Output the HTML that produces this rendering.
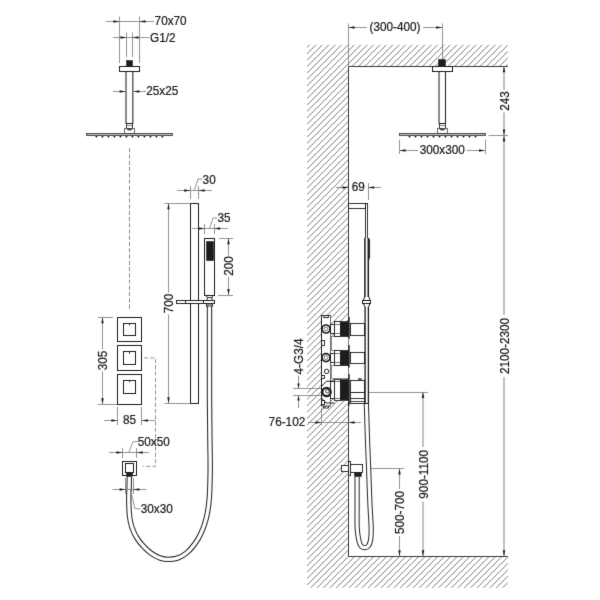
<!DOCTYPE html>
<html><head><meta charset="utf-8"><title>Shower set dimensions</title>
<style>
html,body{margin:0;padding:0;background:#fff;}
body{width:600px;height:600px;overflow:hidden;}
svg{display:block;font-family:"Liberation Sans",sans-serif;will-change:transform;transform:translateZ(0);}
</style></head><body>
<svg width="600" height="600" viewBox="0 0 600 600">
<defs><filter id="bl" x="0" y="0" width="600" height="600" filterUnits="userSpaceOnUse" color-interpolation-filters="sRGB"><feConvolveMatrix order="3" kernelMatrix="0.015 0.06 0.015 0.06 0.7 0.06 0.015 0.06 0.015" divisor="1" edgeMode="duplicate" preserveAlpha="false"/></filter></defs>
<g filter="url(#bl)">
<rect width="600" height="600" fill="#fff"/>
<defs><clipPath id="hc"><path d="M307.1,44.7 H507.8 V66.3 H348.5 V556.3 H507.8 V587.8 H307.1 Z"/></clipPath></defs>
<path d="M305.10,42.95 L509.80,-161.75 M305.10,49.35 L509.80,-155.35 M305.10,55.75 L509.80,-148.95 M305.10,62.15 L509.80,-142.55 M305.10,68.55 L509.80,-136.15 M305.10,74.95 L509.80,-129.75 M305.10,81.35 L509.80,-123.35 M305.10,87.75 L509.80,-116.95 M305.10,94.15 L509.80,-110.55 M305.10,100.55 L509.80,-104.15 M305.10,106.95 L509.80,-97.75 M305.10,113.35 L509.80,-91.35 M305.10,119.75 L509.80,-84.95 M305.10,126.15 L509.80,-78.55 M305.10,132.55 L509.80,-72.15 M305.10,138.95 L509.80,-65.75 M305.10,145.35 L509.80,-59.35 M305.10,151.75 L509.80,-52.95 M305.10,158.15 L509.80,-46.55 M305.10,164.55 L509.80,-40.15 M305.10,170.95 L509.80,-33.75 M305.10,177.35 L509.80,-27.35 M305.10,183.75 L509.80,-20.95 M305.10,190.15 L509.80,-14.55 M305.10,196.55 L509.80,-8.15 M305.10,202.95 L509.80,-1.75 M305.10,209.35 L509.80,4.65 M305.10,215.75 L509.80,11.05 M305.10,222.15 L509.80,17.45 M305.10,228.55 L509.80,23.85 M305.10,234.95 L509.80,30.25 M305.10,241.35 L509.80,36.65 M305.10,247.75 L509.80,43.05 M305.10,254.15 L509.80,49.45 M305.10,260.55 L509.80,55.85 M305.10,266.95 L509.80,62.25 M305.10,273.35 L509.80,68.65 M305.10,279.75 L509.80,75.05 M305.10,286.15 L509.80,81.45 M305.10,292.55 L509.80,87.85 M305.10,298.95 L509.80,94.25 M305.10,305.35 L509.80,100.65 M305.10,311.75 L509.80,107.05 M305.10,318.15 L509.80,113.45 M305.10,324.55 L509.80,119.85 M305.10,330.95 L509.80,126.25 M305.10,337.35 L509.80,132.65 M305.10,343.75 L509.80,139.05 M305.10,350.15 L509.80,145.45 M305.10,356.55 L509.80,151.85 M305.10,362.95 L509.80,158.25 M305.10,369.35 L509.80,164.65 M305.10,375.75 L509.80,171.05 M305.10,382.15 L509.80,177.45 M305.10,388.55 L509.80,183.85 M305.10,394.95 L509.80,190.25 M305.10,401.35 L509.80,196.65 M305.10,407.75 L509.80,203.05 M305.10,414.15 L509.80,209.45 M305.10,420.55 L509.80,215.85 M305.10,426.95 L509.80,222.25 M305.10,433.35 L509.80,228.65 M305.10,439.75 L509.80,235.05 M305.10,446.15 L509.80,241.45 M305.10,452.55 L509.80,247.85 M305.10,458.95 L509.80,254.25 M305.10,465.35 L509.80,260.65 M305.10,471.75 L509.80,267.05 M305.10,478.15 L509.80,273.45 M305.10,484.55 L509.80,279.85 M305.10,490.95 L509.80,286.25 M305.10,497.35 L509.80,292.65 M305.10,503.75 L509.80,299.05 M305.10,510.15 L509.80,305.45 M305.10,516.55 L509.80,311.85 M305.10,522.95 L509.80,318.25 M305.10,529.35 L509.80,324.65 M305.10,535.75 L509.80,331.05 M305.10,542.15 L509.80,337.45 M305.10,548.55 L509.80,343.85 M305.10,554.95 L509.80,350.25 M305.10,561.35 L509.80,356.65 M305.10,567.75 L509.80,363.05 M305.10,574.15 L509.80,369.45 M305.10,580.55 L509.80,375.85 M305.10,586.95 L509.80,382.25 M305.10,593.35 L509.80,388.65 M305.10,599.75 L509.80,395.05 M305.10,606.15 L509.80,401.45 M305.10,612.55 L509.80,407.85 M305.10,618.95 L509.80,414.25 M305.10,625.35 L509.80,420.65 M305.10,631.75 L509.80,427.05 M305.10,638.15 L509.80,433.45 M305.10,644.55 L509.80,439.85 M305.10,650.95 L509.80,446.25 M305.10,657.35 L509.80,452.65 M305.10,663.75 L509.80,459.05 M305.10,670.15 L509.80,465.45 M305.10,676.55 L509.80,471.85 M305.10,682.95 L509.80,478.25 M305.10,689.35 L509.80,484.65 M305.10,695.75 L509.80,491.05 M305.10,702.15 L509.80,497.45 M305.10,708.55 L509.80,503.85 M305.10,714.95 L509.80,510.25 M305.10,721.35 L509.80,516.65 M305.10,727.75 L509.80,523.05 M305.10,734.15 L509.80,529.45 M305.10,740.55 L509.80,535.85 M305.10,746.95 L509.80,542.25 M305.10,753.35 L509.80,548.65 M305.10,759.75 L509.80,555.05 M305.10,766.15 L509.80,561.45 M305.10,772.55 L509.80,567.85 M305.10,778.95 L509.80,574.25 M305.10,785.35 L509.80,580.65 M305.10,791.75 L509.80,587.05 M305.10,798.15 L509.80,593.45" stroke="#7c7c7c" stroke-width="1.0" fill="none" clip-path="url(#hc)"/>
<path d="M507.8,66.5 H348.5 V556.5 H507.8" fill="none" stroke="#3a3a3a" stroke-width="1.0" />
<line x1="119.5" y1="16.5" x2="119.5" y2="63" stroke="#7a7a7a" stroke-width="0.8" />
<line x1="139.5" y1="16.5" x2="139.5" y2="63" stroke="#7a7a7a" stroke-width="0.8" />
<line x1="106" y1="21.5" x2="154" y2="21.5" stroke="#7a7a7a" stroke-width="0.8" />
<polygon points="119.4,21.5 113.4,20.25 113.4,22.75" fill="#1c1c1c"/>
<polygon points="139.5,21.5 145.5,20.25 145.5,22.75" fill="#1c1c1c"/>
<text transform="translate(154.6,25.3) scale(0.94,1)" font-size="12.5" text-anchor="start" fill="#1c1c1c" stroke="#1c1c1c" stroke-width="0.25">70x70</text>
<line x1="126.5" y1="32.5" x2="126.5" y2="57" stroke="#7a7a7a" stroke-width="0.8" />
<line x1="132.5" y1="32.5" x2="132.5" y2="57" stroke="#7a7a7a" stroke-width="0.8" />
<line x1="113" y1="37.5" x2="149" y2="37.5" stroke="#7a7a7a" stroke-width="0.8" />
<polygon points="126.5,37.5 120.5,36.25 120.5,38.75" fill="#1c1c1c"/>
<polygon points="132.5,37.5 138.5,36.25 138.5,38.75" fill="#1c1c1c"/>
<text transform="translate(150,41.6) scale(0.94,1)" font-size="12.5" text-anchor="start" fill="#1c1c1c" stroke="#1c1c1c" stroke-width="0.25">G1/2</text>
<rect x="126.5" y="60.5" width="6.0" height="6.0" fill="#1c1c1c" stroke="#1c1c1c" stroke-width="0.5" />
<rect x="119.5" y="66.5" width="20.0" height="5.0" fill="none" stroke="#1c1c1c" stroke-width="1.0" />
<path d="M126,71.5 V123 M132.85,71.5 V123" fill="none" stroke="#2a2a2a" stroke-width="1.1" />
<line x1="125.6" y1="123.5" x2="133.3" y2="123.5" stroke="#1c1c1c" stroke-width="1.0" />
<line x1="113" y1="91.5" x2="125.6" y2="91.5" stroke="#7a7a7a" stroke-width="0.8" />
<polygon points="125.6,91.5 119.6,90.25 119.6,92.75" fill="#1c1c1c"/>
<line x1="133.3" y1="91.5" x2="146" y2="91.5" stroke="#7a7a7a" stroke-width="0.8" />
<polygon points="133.3,91.5 139.3,90.25 139.3,92.75" fill="#1c1c1c"/>
<text transform="translate(146.3,95) scale(0.94,1)" font-size="12.5" text-anchor="start" fill="#1c1c1c" stroke="#1c1c1c" stroke-width="0.25">25x25</text>
<rect x="126.5" y="123.5" width="6.0" height="5.0" fill="none" stroke="#1c1c1c" stroke-width="0.9" />
<line x1="126.3" y1="125.5" x2="132.8" y2="125.5" stroke="#666" stroke-width="0.8" />
<rect x="124.5" y="128.5" width="10.0" height="5.0" fill="none" stroke="#5a5a5a" stroke-width="0.9" />
<ellipse cx="129.5" cy="129.2" rx="2.7" ry="1.2" fill="#444"/>
<rect x="86.5" y="133.5" width="86.0" height="2.0" fill="#b8b8b8" stroke="#3a3a3a" stroke-width="0.85" />
<polygon points="95.10,136 97.70,136 96.40,138" fill="#2a2a2a"/>
<polygon points="101.10,136 103.70,136 102.40,138" fill="#2a2a2a"/>
<polygon points="107.10,136 109.70,136 108.40,138" fill="#2a2a2a"/>
<polygon points="113.10,136 115.70,136 114.40,138" fill="#2a2a2a"/>
<polygon points="119.10,136 121.70,136 120.40,138" fill="#2a2a2a"/>
<polygon points="125.10,136 127.70,136 126.40,138" fill="#2a2a2a"/>
<polygon points="131.10,136 133.70,136 132.40,138" fill="#2a2a2a"/>
<polygon points="137.10,136 139.70,136 138.40,138" fill="#2a2a2a"/>
<polygon points="143.10,136 145.70,136 144.40,138" fill="#2a2a2a"/>
<polygon points="149.10,136 151.70,136 150.40,138" fill="#2a2a2a"/>
<polygon points="155.10,136 157.70,136 156.40,138" fill="#2a2a2a"/>
<polygon points="161.10,136 163.70,136 162.40,138" fill="#2a2a2a"/>
<line x1="129.5" y1="148.3" x2="129.5" y2="311" stroke="#7a7a7a" stroke-width="0.9" stroke-dasharray="4.1 2.15"/>
<line x1="190.5" y1="186" x2="190.5" y2="199" stroke="#7a7a7a" stroke-width="0.8" />
<line x1="198.5" y1="186" x2="198.5" y2="199" stroke="#7a7a7a" stroke-width="0.8" />
<line x1="177" y1="190.5" x2="212" y2="190.5" stroke="#7a7a7a" stroke-width="0.8" />
<polygon points="190.2,190.5 184.2,189.25 184.2,191.75" fill="#1c1c1c"/>
<polygon points="198.6,190.5 204.6,189.25 204.6,191.75" fill="#1c1c1c"/>
<path d="M194.4,190.4 L198,179 H202.4" fill="none" stroke="#7a7a7a" stroke-width="0.8" />
<text transform="translate(202.6,183.6) scale(0.94,1)" font-size="12.5" text-anchor="start" fill="#1c1c1c" stroke="#1c1c1c" stroke-width="0.25">30</text>
<rect x="190.5" y="203.5" width="8.0" height="200.0" fill="none" stroke="#1c1c1c" stroke-width="1.0" />
<line x1="164.5" y1="203.5" x2="190.2" y2="203.5" stroke="#7a7a7a" stroke-width="0.8" />
<line x1="164.5" y1="403.5" x2="190.2" y2="403.5" stroke="#7a7a7a" stroke-width="0.8" />
<line x1="168.5" y1="203.2" x2="168.5" y2="292.5" stroke="#7a7a7a" stroke-width="0.8" />
<line x1="168.5" y1="314.3" x2="168.5" y2="403.2" stroke="#7a7a7a" stroke-width="0.8" />
<polygon points="168.5,203.2 167.25,209.2 169.75,209.2" fill="#1c1c1c"/>
<polygon points="168.5,403.2 167.25,397.2 169.75,397.2" fill="#1c1c1c"/>
<text transform="translate(172.5,303.4) rotate(-90) scale(0.94,1)" font-size="12.5" text-anchor="middle" fill="#1c1c1c" stroke="#1c1c1c" stroke-width="0.25">700</text>
<line x1="204.5" y1="224" x2="204.5" y2="234" stroke="#7a7a7a" stroke-width="0.8" />
<line x1="214.5" y1="224" x2="214.5" y2="234" stroke="#7a7a7a" stroke-width="0.8" />
<line x1="192" y1="228.5" x2="228" y2="228.5" stroke="#7a7a7a" stroke-width="0.8" />
<polygon points="204.7,228.5 198.7,227.25 198.7,229.75" fill="#1c1c1c"/>
<polygon points="214.2,228.5 220.2,227.25 220.2,229.75" fill="#1c1c1c"/>
<path d="M209.6,228.6 L213,218 H217" fill="none" stroke="#7a7a7a" stroke-width="0.8" />
<text transform="translate(217.5,222) scale(0.94,1)" font-size="12.5" text-anchor="start" fill="#1c1c1c" stroke="#1c1c1c" stroke-width="0.25">35</text>
<rect x="204.5" y="238.5" width="10.0" height="57.0" fill="none" stroke="#1c1c1c" stroke-width="1.0" />
<rect x="206.5" y="241.5" width="7.0" height="19.0" fill="#1c1c1c" stroke="#1c1c1c" stroke-width="0.6" rx="0.3"/>
<line x1="219" y1="238.5" x2="233" y2="238.5" stroke="#7a7a7a" stroke-width="0.8" />
<line x1="218" y1="295.5" x2="233" y2="295.5" stroke="#7a7a7a" stroke-width="0.8" />
<line x1="228.5" y1="238.2" x2="228.5" y2="255.5" stroke="#7a7a7a" stroke-width="0.8" />
<line x1="228.5" y1="276.5" x2="228.5" y2="295" stroke="#7a7a7a" stroke-width="0.8" />
<polygon points="228.5,238.2 227.25,244.2 229.75,244.2" fill="#1c1c1c"/>
<polygon points="228.5,295 227.25,289.0 229.75,289.0" fill="#1c1c1c"/>
<text transform="translate(232.6,266) rotate(-90) scale(0.94,1)" font-size="12.5" text-anchor="middle" fill="#1c1c1c" stroke="#1c1c1c" stroke-width="0.25">200</text>
<path d="M206.3,295.5 L207.2,297.6 V300.3 M213,295.5 L212,297.6 V300.3 M207.2,297.6 H212" fill="none" stroke="#1c1c1c" stroke-width="0.9" />
<rect x="176.5" y="300.5" width="27.0" height="3.0" fill="#fff" stroke="#1c1c1c" stroke-width="0.95" />
<rect x="203.5" y="300.5" width="11.0" height="3.0" fill="#fff" stroke="#1c1c1c" stroke-width="0.95" />
<line x1="185.5" y1="300.3" x2="185.5" y2="303.8" stroke="#1c1c1c" stroke-width="0.9" />
<rect x="206.5" y="303.5" width="6.0" height="3.0" fill="#8a8a8a" stroke="#1c1c1c" stroke-width="0.8" />
<path d="M129.35,476.90 C129.31,478.75 129.20,484.15 129.10,488.00 C129.00,491.85 128.67,495.22 128.75,500.00 C128.83,504.78 129.04,512.05 129.60,516.70 C130.16,521.35 130.93,524.43 132.10,527.90 C133.27,531.37 134.73,534.45 136.60,537.50 C138.47,540.55 140.87,543.57 143.30,546.20 C145.73,548.83 148.35,551.32 151.20,553.30 C154.05,555.28 157.55,557.08 160.40,558.10 C163.25,559.12 165.45,559.40 168.30,559.40 C171.15,559.40 174.45,559.17 177.50,558.10 C180.55,557.03 183.75,555.33 186.60,553.00 C189.45,550.67 192.17,547.45 194.60,544.10 C197.03,540.75 199.27,537.20 201.20,532.90 C203.13,528.60 204.88,523.78 206.20,518.30 C207.52,512.82 208.48,508.05 209.15,500.00 C209.82,491.95 210.07,480.00 210.20,470.00 C210.32,460.00 210.02,451.67 209.90,440.00 C209.78,428.33 209.57,415.00 209.50,400.00 C209.43,385.00 209.50,365.57 209.50,350.00 C209.50,334.43 209.50,313.83 209.50,306.60" fill="none" stroke="#262626" stroke-width="5.4" stroke-linejoin="round"/>
<path d="M129.35,476.90 C129.31,478.75 129.20,484.15 129.10,488.00 C129.00,491.85 128.67,495.22 128.75,500.00 C128.83,504.78 129.04,512.05 129.60,516.70 C130.16,521.35 130.93,524.43 132.10,527.90 C133.27,531.37 134.73,534.45 136.60,537.50 C138.47,540.55 140.87,543.57 143.30,546.20 C145.73,548.83 148.35,551.32 151.20,553.30 C154.05,555.28 157.55,557.08 160.40,558.10 C163.25,559.12 165.45,559.40 168.30,559.40 C171.15,559.40 174.45,559.17 177.50,558.10 C180.55,557.03 183.75,555.33 186.60,553.00 C189.45,550.67 192.17,547.45 194.60,544.10 C197.03,540.75 199.27,537.20 201.20,532.90 C203.13,528.60 204.88,523.78 206.20,518.30 C207.52,512.82 208.48,508.05 209.15,500.00 C209.82,491.95 210.07,480.00 210.20,470.00 C210.32,460.00 210.02,451.67 209.90,440.00 C209.78,428.33 209.57,415.00 209.50,400.00 C209.43,385.00 209.50,365.57 209.50,350.00 C209.50,334.43 209.50,313.83 209.50,306.60" fill="none" stroke="#fff" stroke-width="3.3" stroke-linejoin="round"/>
<rect x="117.5" y="317.5" width="24.0" height="24.0" fill="none" stroke="#1c1c1c" stroke-width="1.0" />
<rect x="123.5" y="323.5" width="12.0" height="12.0" fill="none" stroke="#1c1c1c" stroke-width="1.0" />
<line x1="129.5" y1="323.2" x2="129.5" y2="325.4" stroke="#1c1c1c" stroke-width="0.9" />
<rect x="117.5" y="345.5" width="24.0" height="25.0" fill="none" stroke="#1c1c1c" stroke-width="1.0" />
<rect x="123.5" y="351.5" width="12.0" height="13.0" fill="none" stroke="#1c1c1c" stroke-width="1.0" />
<line x1="129.5" y1="351.6" x2="129.5" y2="353.8" stroke="#1c1c1c" stroke-width="0.9" />
<rect x="117.5" y="374.5" width="24.0" height="30.0" fill="none" stroke="#1c1c1c" stroke-width="1.0" />
<rect x="123.5" y="380.5" width="12.0" height="13.0" fill="none" stroke="#1c1c1c" stroke-width="1.0" />
<line x1="129.5" y1="380.2" x2="129.5" y2="382.4" stroke="#1c1c1c" stroke-width="0.9" />
<line x1="98" y1="317.5" x2="113" y2="317.5" stroke="#7a7a7a" stroke-width="0.8" />
<line x1="98" y1="404.5" x2="117" y2="404.5" stroke="#7a7a7a" stroke-width="0.8" />
<line x1="102.5" y1="317.2" x2="102.5" y2="349.5" stroke="#7a7a7a" stroke-width="0.8" />
<line x1="102.5" y1="371.5" x2="102.5" y2="404.3" stroke="#7a7a7a" stroke-width="0.8" />
<polygon points="102.5,317.2 101.25,323.2 103.75,323.2" fill="#1c1c1c"/>
<polygon points="102.5,404.3 101.25,398.3 103.75,398.3" fill="#1c1c1c"/>
<text transform="translate(106.5,360.4) rotate(-90) scale(0.94,1)" font-size="12.5" text-anchor="middle" fill="#1c1c1c" stroke="#1c1c1c" stroke-width="0.25">305</text>
<line x1="117.5" y1="407" x2="117.5" y2="425" stroke="#7a7a7a" stroke-width="0.8" />
<line x1="141.5" y1="407" x2="141.5" y2="425" stroke="#7a7a7a" stroke-width="0.8" />
<line x1="104" y1="420.5" x2="117.4" y2="420.5" stroke="#7a7a7a" stroke-width="0.8" />
<polygon points="117.4,420.5 111.4,419.25 111.4,421.75" fill="#1c1c1c"/>
<line x1="141.9" y1="420.5" x2="155.5" y2="420.5" stroke="#7a7a7a" stroke-width="0.8" />
<polygon points="141.9,420.5 147.9,419.25 147.9,421.75" fill="#1c1c1c"/>
<text transform="translate(129.5,424.4) scale(0.94,1)" font-size="12.5" text-anchor="middle" fill="#1c1c1c" stroke="#1c1c1c" stroke-width="0.25">85</text>
<path d="M144,358 H155.5 V466.4 H143" fill="none" stroke="#7a7a7a" stroke-width="0.8" stroke-dasharray="4.1 2.15"/>
<line x1="122.5" y1="448" x2="122.5" y2="458" stroke="#7a7a7a" stroke-width="0.8" />
<line x1="136.5" y1="448" x2="136.5" y2="458" stroke="#7a7a7a" stroke-width="0.8" />
<line x1="109" y1="452.5" x2="149" y2="452.5" stroke="#7a7a7a" stroke-width="0.8" />
<polygon points="122.4,452.5 116.4,451.25 116.4,453.75" fill="#1c1c1c"/>
<polygon points="136.7,452.5 142.7,451.25 142.7,453.75" fill="#1c1c1c"/>
<path d="M129,452.4 L133,441.6 H138" fill="none" stroke="#7a7a7a" stroke-width="0.8" />
<text transform="translate(137.7,445.6) scale(0.94,1)" font-size="12.5" text-anchor="start" fill="#1c1c1c" stroke="#1c1c1c" stroke-width="0.25">50x50</text>
<rect x="122.5" y="461.5" width="14.0" height="14.0" fill="none" stroke="#1c1c1c" stroke-width="1.0" />
<rect x="125.5" y="463.5" width="8.0" height="9.0" fill="none" stroke="#1c1c1c" stroke-width="1.0" />
<rect x="126.5" y="472.5" width="6.0" height="4.0" fill="#1c1c1c" stroke="#1c1c1c" stroke-width="0.5" />
<line x1="125.5" y1="478" x2="125.5" y2="494" stroke="#7a7a7a" stroke-width="0.8" />
<line x1="133.5" y1="478" x2="133.5" y2="494" stroke="#7a7a7a" stroke-width="0.8" />
<line x1="112.4" y1="489.5" x2="125.6" y2="489.5" stroke="#7a7a7a" stroke-width="0.8" />
<polygon points="125.6,489.5 119.6,488.25 119.6,490.75" fill="#1c1c1c"/>
<line x1="133.3" y1="489.5" x2="146.5" y2="489.5" stroke="#7a7a7a" stroke-width="0.8" />
<polygon points="133.3,489.5 139.3,488.25 139.3,490.75" fill="#1c1c1c"/>
<line x1="125.6" y1="489.5" x2="133.3" y2="489.5" stroke="#7a7a7a" stroke-width="0.8" />
<path d="M130.3,489 L135,508.8 H140.5" fill="none" stroke="#7a7a7a" stroke-width="0.8" />
<text transform="translate(140.8,513.2) scale(0.94,1)" font-size="12.5" text-anchor="start" fill="#1c1c1c" stroke="#1c1c1c" stroke-width="0.25">30x30</text>
<line x1="348.5" y1="23.5" x2="348.5" y2="66.3" stroke="#7a7a7a" stroke-width="0.8" />
<line x1="442.5" y1="23.5" x2="442.5" y2="60" stroke="#7a7a7a" stroke-width="0.8" />
<line x1="348.5" y1="27.5" x2="367" y2="27.5" stroke="#7a7a7a" stroke-width="0.8" />
<line x1="423" y1="27.5" x2="442.2" y2="27.5" stroke="#7a7a7a" stroke-width="0.8" />
<polygon points="348.5,27.5 354.5,26.25 354.5,28.75" fill="#1c1c1c"/>
<polygon points="442.2,27.5 436.2,26.25 436.2,28.75" fill="#1c1c1c"/>
<text transform="translate(395,30.8) scale(0.94,1)" font-size="12.5" text-anchor="middle" fill="#1c1c1c" stroke="#1c1c1c" stroke-width="0.25">(300-400)</text>
<rect x="438.5" y="59.5" width="7.0" height="7.0" fill="#1c1c1c" stroke="#1c1c1c" stroke-width="0.5" />
<rect x="432.5" y="66.5" width="20.0" height="5.0" fill="#fff" stroke="#1c1c1c" stroke-width="1.0" />
<path d="M439,71.5 V123 M445.5,71.5 V123" fill="none" stroke="#2a2a2a" stroke-width="1.1" />
<line x1="438.6" y1="123.5" x2="446" y2="123.5" stroke="#1c1c1c" stroke-width="1.0" />
<rect x="439.5" y="123.5" width="6.0" height="5.0" fill="none" stroke="#1c1c1c" stroke-width="0.9" />
<line x1="439.2" y1="125.5" x2="445.5" y2="125.5" stroke="#666" stroke-width="0.8" />
<rect x="437.5" y="128.5" width="10.0" height="5.0" fill="none" stroke="#5a5a5a" stroke-width="0.9" />
<ellipse cx="442.3" cy="129.2" rx="2.7" ry="1.2" fill="#444"/>
<rect x="399.5" y="133.5" width="86.0" height="2.0" fill="#b8b8b8" stroke="#3a3a3a" stroke-width="0.85" />
<polygon points="408.20,136 410.80,136 409.50,138" fill="#2a2a2a"/>
<polygon points="414.20,136 416.80,136 415.50,138" fill="#2a2a2a"/>
<polygon points="420.20,136 422.80,136 421.50,138" fill="#2a2a2a"/>
<polygon points="426.20,136 428.80,136 427.50,138" fill="#2a2a2a"/>
<polygon points="432.20,136 434.80,136 433.50,138" fill="#2a2a2a"/>
<polygon points="438.20,136 440.80,136 439.50,138" fill="#2a2a2a"/>
<polygon points="444.20,136 446.80,136 445.50,138" fill="#2a2a2a"/>
<polygon points="450.20,136 452.80,136 451.50,138" fill="#2a2a2a"/>
<polygon points="456.20,136 458.80,136 457.50,138" fill="#2a2a2a"/>
<polygon points="462.20,136 464.80,136 463.50,138" fill="#2a2a2a"/>
<polygon points="468.20,136 470.80,136 469.50,138" fill="#2a2a2a"/>
<polygon points="474.20,136 476.80,136 475.50,138" fill="#2a2a2a"/>
<line x1="488.5" y1="135.5" x2="508" y2="135.5" stroke="#7a7a7a" stroke-width="0.8" />
<line x1="504" y1="66.3" x2="504" y2="90" stroke="#858585" stroke-width="1.0"/>
<line x1="504" y1="112.5" x2="504" y2="135" stroke="#858585" stroke-width="1.0"/>
<polygon points="504,66.3 502.75,72.3 505.25,72.3" fill="#1c1c1c"/>
<polygon points="504,135.5 502.75,129.5 505.25,129.5" fill="#1c1c1c"/>
<text transform="translate(508.6,101) rotate(-90) scale(0.94,1)" font-size="12.5" text-anchor="middle" fill="#1c1c1c" stroke="#1c1c1c" stroke-width="0.25">243</text>
<line x1="504" y1="135" x2="504" y2="315" stroke="#858585" stroke-width="1.0"/>
<line x1="504" y1="377" x2="504" y2="556.3" stroke="#858585" stroke-width="1.0"/>
<polygon points="504,135.5 502.75,141.5 505.25,141.5" fill="#1c1c1c"/>
<polygon points="504,556.3 502.75,550.3 505.25,550.3" fill="#1c1c1c"/>
<text transform="translate(508.6,346) rotate(-90) scale(0.94,1)" font-size="12.5" text-anchor="middle" fill="#1c1c1c" stroke="#1c1c1c" stroke-width="0.25">2100-2300</text>
<line x1="399.5" y1="139.5" x2="399.5" y2="154" stroke="#7a7a7a" stroke-width="0.8" />
<line x1="485.5" y1="139.5" x2="485.5" y2="154" stroke="#7a7a7a" stroke-width="0.8" />
<line x1="399.6" y1="150.5" x2="418" y2="150.5" stroke="#7a7a7a" stroke-width="0.8" />
<line x1="466.5" y1="150.5" x2="485" y2="150.5" stroke="#7a7a7a" stroke-width="0.8" />
<polygon points="399.6,150.5 405.6,149.25 405.6,151.75" fill="#1c1c1c"/>
<polygon points="485,150.5 479.0,149.25 479.0,151.75" fill="#1c1c1c"/>
<text transform="translate(442.3,154.2) scale(0.94,1)" font-size="12.5" text-anchor="middle" fill="#1c1c1c" stroke="#1c1c1c" stroke-width="0.25">300x300</text>
<line x1="368.5" y1="183" x2="368.5" y2="200" stroke="#7a7a7a" stroke-width="0.8" />
<line x1="336" y1="187.5" x2="348.5" y2="187.5" stroke="#7a7a7a" stroke-width="0.8" />
<polygon points="348.5,187.5 342.5,186.25 342.5,188.75" fill="#1c1c1c"/>
<line x1="368.2" y1="187.5" x2="381" y2="187.5" stroke="#7a7a7a" stroke-width="0.8" />
<polygon points="368.2,187.5 374.2,186.25 374.2,188.75" fill="#1c1c1c"/>
<text transform="translate(358.3,191) scale(0.94,1)" font-size="12.5" text-anchor="middle" fill="#1c1c1c" stroke="#1c1c1c" stroke-width="0.25">69</text>
<rect x="348.5" y="203.5" width="17.0" height="5.0" fill="none" stroke="#1c1c1c" stroke-width="0.9" />
<line x1="365.5" y1="203.3" x2="365.5" y2="238" stroke="#1c1c1c" stroke-width="0.9" />
<line x1="367.5" y1="203.3" x2="367.5" y2="238" stroke="#1c1c1c" stroke-width="0.9" />
<line x1="365.3" y1="203.5" x2="367.8" y2="203.5" stroke="#1c1c1c" stroke-width="0.9" />
<path d="M364.9,238 V297 M368.3,238 V297" fill="none" stroke="#1c1c1c" stroke-width="1.5" />
<path d="M369,238.3 L369.8,240.5 V257.5 L369,259.6 Z" fill="#1c1c1c" stroke="#1c1c1c" stroke-width="0.3" />
<path d="M364.6,296.5 L363.6,300 M368.8,296.5 L369.8,300 M363.6,303.8 L364.8,306.8 M369.8,303.8 L368.6,306.8" fill="none" stroke="#1c1c1c" stroke-width="1.0" />
<rect x="362.5" y="300.5" width="8.0" height="3.0" fill="#fff" stroke="#1c1c1c" stroke-width="1.0" />
<rect x="331.5" y="336.5" width="17.0" height="14.0" fill="#fff" stroke="#777" stroke-width="0.8" />
<rect x="331.5" y="365.5" width="17.0" height="13.0" fill="#fff" stroke="#777" stroke-width="0.8" />
<path d="M321.5,315.5 V406 H330.5 V315.5 Z" fill="#fff" stroke="#1c1c1c" stroke-width="0.9" />
<line x1="330.5" y1="315.5" x2="330.5" y2="406" stroke="#777" stroke-width="0.9" />
<line x1="321.5" y1="315.5" x2="321.5" y2="406" stroke="#1c1c1c" stroke-width="1.0" />
<path d="M323.8,315.5 V317.6 H328.4 V315.5" fill="none" stroke="#1c1c1c" stroke-width="1.0" />
<path d="M323.5,406 V408 H328.5 V406" fill="none" stroke="#1c1c1c" stroke-width="0.9" />
<rect x="348.5" y="317.5" width="1.0" height="21.0" fill="#1c1c1c" stroke="#1c1c1c" stroke-width="0.4" />
<rect x="348.5" y="345.5" width="1.0" height="22.0" fill="#1c1c1c" stroke="#1c1c1c" stroke-width="0.4" />
<rect x="348.5" y="374.5" width="1.0" height="31.0" fill="#1c1c1c" stroke="#1c1c1c" stroke-width="0.4" />
<rect x="330.5" y="324.5" width="4.0" height="9.0" fill="#fff" stroke="#1c1c1c" stroke-width="0.9" />
<rect x="334.5" y="321.5" width="6.0" height="15.0" fill="#fff" stroke="#1c1c1c" stroke-width="0.9" />
<line x1="334.5" y1="324.5" x2="340.5" y2="324.5" stroke="#555" stroke-width="0.8" />
<line x1="334.5" y1="333.5" x2="340.5" y2="333.5" stroke="#555" stroke-width="0.8" />
<rect x="340.5" y="321.5" width="8.0" height="15.0" fill="#1c1c1c" stroke="#1c1c1c" stroke-width="0.5" />
<rect x="350.5" y="323.5" width="14.0" height="12.0" fill="#fff" stroke="#1c1c1c" stroke-width="0.9" />
<rect x="330.5" y="353.5" width="4.0" height="9.0" fill="#fff" stroke="#1c1c1c" stroke-width="0.9" />
<rect x="334.5" y="350.5" width="6.0" height="15.0" fill="#fff" stroke="#1c1c1c" stroke-width="0.9" />
<line x1="334.5" y1="353.5" x2="340.5" y2="353.5" stroke="#555" stroke-width="0.8" />
<line x1="334.5" y1="362.5" x2="340.5" y2="362.5" stroke="#555" stroke-width="0.8" />
<rect x="340.5" y="350.5" width="8.0" height="15.0" fill="#1c1c1c" stroke="#1c1c1c" stroke-width="0.5" />
<rect x="350.5" y="352.5" width="14.0" height="11.0" fill="#fff" stroke="#1c1c1c" stroke-width="0.9" />
<rect x="330.5" y="381.5" width="4.0" height="17.0" fill="#fff" stroke="#1c1c1c" stroke-width="0.9" />
<rect x="334.5" y="379.5" width="6.0" height="21.0" fill="#fff" stroke="#1c1c1c" stroke-width="0.9" />
<line x1="334.5" y1="381.5" x2="340.5" y2="381.5" stroke="#555" stroke-width="0.8" />
<line x1="334.5" y1="398.5" x2="340.5" y2="398.5" stroke="#555" stroke-width="0.8" />
<rect x="340.5" y="379.5" width="8.0" height="21.0" fill="#1c1c1c" stroke="#1c1c1c" stroke-width="0.5" />
<rect x="350.5" y="380.5" width="14.0" height="12.0" fill="#fff" stroke="#1c1c1c" stroke-width="0.9" />
<rect x="350.5" y="392.5" width="14.0" height="11.0" fill="#fff" stroke="#1c1c1c" stroke-width="0.9" />
<line x1="350.5" y1="398.5" x2="364" y2="398.5" stroke="#1c1c1c" stroke-width="0.9" />
<line x1="350.5" y1="401.5" x2="364" y2="401.5" stroke="#1c1c1c" stroke-width="0.8" />
<rect x="358.5" y="378.5" width="3.0" height="2.0" fill="#555" stroke="#1c1c1c" stroke-width="0.4" />
<circle cx="326" cy="329" r="4.0" fill="#fff" stroke="#1c1c1c" stroke-width="1.7"/>
<circle cx="326" cy="329" r="1.9" fill="none" stroke="#555" stroke-width="0.8"/>
<circle cx="326" cy="357.6" r="4.0" fill="#fff" stroke="#1c1c1c" stroke-width="1.7"/>
<circle cx="326" cy="357.6" r="1.9" fill="none" stroke="#555" stroke-width="0.8"/>
<path d="M321.5,386.5 L326.5,381.2 H334.5 M321.5,398 L326,403 H334.5" fill="none" stroke="#1c1c1c" stroke-width="1.0" />
<circle cx="326.5" cy="392" r="4.2" fill="#fff" stroke="#1c1c1c" stroke-width="2.3"/>
<circle cx="327.3" cy="391.3" r="1.7" fill="none" stroke="#333" stroke-width="0.9"/>
<rect x="321.5" y="340.5" width="3.0" height="5.0" fill="none" stroke="#1c1c1c" stroke-width="0.9" />
<rect x="321.5" y="375.5" width="3.0" height="3.0" fill="none" stroke="#1c1c1c" stroke-width="0.9" />
<rect x="321.5" y="400.5" width="3.0" height="4.0" fill="none" stroke="#1c1c1c" stroke-width="0.9" />
<circle cx="326.6" cy="371.4" r="2.2" fill="none" stroke="#1c1c1c" stroke-width="1.0"/>
<text transform="translate(302.6,356.5) rotate(-90) scale(0.94,1)" font-size="12.5" text-anchor="middle" fill="#1c1c1c" stroke="#1c1c1c" stroke-width="0.25">4-G3/4</text>
<line x1="298.5" y1="376" x2="298.5" y2="388.6" stroke="#7a7a7a" stroke-width="0.8" />
<polygon points="298.5,388.6 297.25,383.6 299.75,383.6" fill="#1c1c1c"/>
<line x1="298.5" y1="395.6" x2="298.5" y2="408" stroke="#7a7a7a" stroke-width="0.8" />
<polygon points="298.5,395.6 297.25,400.6 299.75,400.6" fill="#1c1c1c"/>
<line x1="293" y1="388.5" x2="321" y2="388.5" stroke="#7a7a7a" stroke-width="0.8" />
<line x1="293" y1="395.5" x2="321" y2="395.5" stroke="#7a7a7a" stroke-width="0.8" />
<line x1="321.5" y1="408" x2="321.5" y2="425.5" stroke="#7a7a7a" stroke-width="0.8" />
<line x1="308" y1="422.5" x2="361" y2="422.5" stroke="#7a7a7a" stroke-width="0.8" />
<polygon points="321.4,422.5 315.4,421.25 315.4,423.75" fill="#1c1c1c"/>
<polygon points="348.5,422.5 354.5,421.25 354.5,423.75" fill="#1c1c1c"/>
<text transform="translate(305.2,426) scale(0.94,1)" font-size="12.5" text-anchor="end" fill="#1c1c1c" stroke="#1c1c1c" stroke-width="0.25">76-102</text>
<line x1="368.6" y1="392.5" x2="428" y2="392.5" stroke="#7a7a7a" stroke-width="0.8" />
<line x1="423" y1="392" x2="423" y2="447" stroke="#858585" stroke-width="1.0"/>
<line x1="423" y1="501.5" x2="423" y2="556.3" stroke="#858585" stroke-width="1.0"/>
<polygon points="423,392 421.75,398.0 424.25,398.0" fill="#1c1c1c"/>
<polygon points="423,556.3 421.75,550.3 424.25,550.3" fill="#1c1c1c"/>
<text transform="translate(427.8,474.3) rotate(-90) scale(0.94,1)" font-size="12.5" text-anchor="middle" fill="#1c1c1c" stroke="#1c1c1c" stroke-width="0.25">900-1100</text>
<line x1="367" y1="468.5" x2="404" y2="468.5" stroke="#7a7a7a" stroke-width="0.8" />
<line x1="399.5" y1="468.4" x2="399.5" y2="489" stroke="#7a7a7a" stroke-width="0.8" />
<line x1="399.5" y1="536" x2="399.5" y2="556.3" stroke="#7a7a7a" stroke-width="0.8" />
<polygon points="399.5,468.4 398.25,474.4 400.75,474.4" fill="#1c1c1c"/>
<polygon points="399.5,556.3 398.25,550.3 400.75,550.3" fill="#1c1c1c"/>
<text transform="translate(404.2,512.5) rotate(-90) scale(0.94,1)" font-size="12.5" text-anchor="middle" fill="#1c1c1c" stroke="#1c1c1c" stroke-width="0.25">500-700</text>
<path d="M366.35,403.30 C366.54,409.42 367.11,428.88 367.50,440.00 C367.89,451.12 368.42,462.50 368.70,470.00 C368.98,477.50 368.97,478.75 369.20,485.00 C369.43,491.25 369.77,500.33 370.10,507.50 C370.43,514.67 371.12,522.58 371.20,528.00 C371.28,533.42 371.08,537.00 370.60,540.00 C370.12,543.00 369.28,544.73 368.30,546.00 C367.32,547.27 365.97,547.60 364.75,547.60 C363.53,547.60 361.99,547.27 361.00,546.00 C360.01,544.73 359.43,543.00 358.80,540.00 C358.17,537.00 357.48,533.83 357.20,528.00 C356.92,522.17 357.12,513.53 357.10,505.00 C357.08,496.47 357.10,481.50 357.10,476.80" fill="none" stroke="#262626" stroke-width="5.2" stroke-linejoin="round"/>
<path d="M366.35,403.30 C366.54,409.42 367.11,428.88 367.50,440.00 C367.89,451.12 368.42,462.50 368.70,470.00 C368.98,477.50 368.97,478.75 369.20,485.00 C369.43,491.25 369.77,500.33 370.10,507.50 C370.43,514.67 371.12,522.58 371.20,528.00 C371.28,533.42 371.08,537.00 370.60,540.00 C370.12,543.00 369.28,544.73 368.30,546.00 C367.32,547.27 365.97,547.60 364.75,547.60 C363.53,547.60 361.99,547.27 361.00,546.00 C360.01,544.73 359.43,543.00 358.80,540.00 C358.17,537.00 357.48,533.83 357.20,528.00 C356.92,522.17 357.12,513.53 357.10,505.00 C357.08,496.47 357.10,481.50 357.10,476.80" fill="none" stroke="#fff" stroke-width="3.2" stroke-linejoin="round"/>
<path d="M365.1,306.8 V403.8 M368.4,306.8 V403.8" fill="none" stroke="#1c1c1c" stroke-width="1.3" />
<line x1="364" y1="403.5" x2="368.6" y2="403.5" stroke="#1c1c1c" stroke-width="1.0" />
<rect x="341.5" y="465.5" width="7.0" height="6.0" fill="#fff" stroke="#1c1c1c" stroke-width="0.9" />
<rect x="348.5" y="461.5" width="2.0" height="14.0" fill="#fff" stroke="#1c1c1c" stroke-width="0.9" />
<rect x="350.5" y="464.5" width="12.0" height="8.0" fill="#fff" stroke="#1c1c1c" stroke-width="0.9" />
<rect x="354.5" y="472.5" width="7.0" height="4.0" fill="#1c1c1c" stroke="#1c1c1c" stroke-width="0.5" />
</g>
</svg>
</body></html>
